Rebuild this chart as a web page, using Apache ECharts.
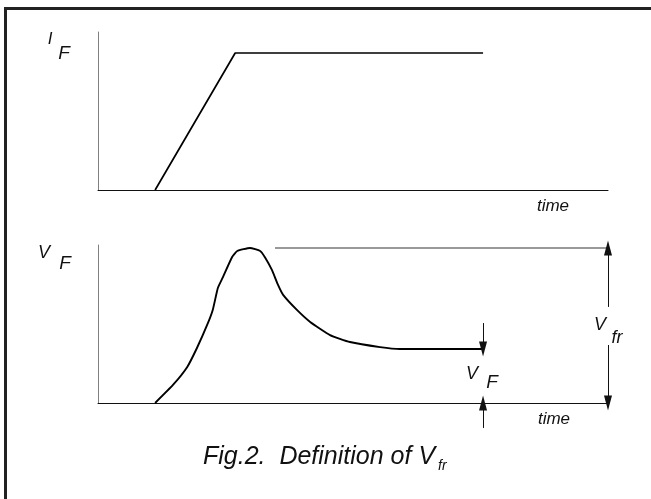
<!DOCTYPE html>
<html>
<head>
<meta charset="utf-8">
<script src="https://cdn.jsdelivr.net/npm/echarts@6/dist/echarts.min.js"></script>
<style>
  html, body { margin: 0; padding: 0; background: #fff; }
  #chart { width: 651px; height: 499px; }
</style>
</head>
<body>
<div id="chart"></div>
<script>
// forward current I_F (time in % of axis, value in % of axis)
const ifTime = [11.2, 26.9, 75.5];
const ifVals = [0, 86.7, 86.7];

// forward voltage V_F, overshoot then settling
const vfTime = [11.2, 14.7, 17.5, 19.4, 21.4, 22.5, 23.5, 24.5, 26.3, 27.3, 29.8, 31.8,
                32.7, 34.1, 35.3, 36.3, 39.0, 41.6, 45.5, 49.4, 55.3, 59.2, 75.5];
const vfVals = [0, 11.4, 22.8, 34.8, 49.4, 58.9, 72.8, 79.7, 92.4, 96.2, 98.1, 96.2,
                92.4, 84.2, 74.7, 68.4, 58.9, 51.3, 43.0, 38.6, 35.4, 34.2, 34.2];

// annotation levels
const peakLevel = 98.1;
const peakLineStart = 34.7;
const vfrX = 100;
const vfrGap = [60.8, 36.7];
const vfX = 75.5;
const vfLevel = 34.2;
const vfArrowFrom = [50.6, -15.8];

function plainAxis(grid, show, color) {
    return {
        type: 'value', gridIndex: grid, min: 0, max: 100, show: show,
        axisLine: {show: true, onZero: false, lineStyle: {color: color, width: 1}},
        axisTick: {show: false}, axisLabel: {show: false}, splitLine: {show: false}
    };
}

function arrow(x0, y0, x1, y1) {
    return [{coord: [x0, y0]}, {coord: [x1, y1], symbol: 'triangle', symbolSize: [8, 15]}];
}

function label(text, x, y, size) {
    return {
        type: 'text', x: x, y: y, silent: true,
        style: {
            text: text, fill: '#111',
            font: 'italic ' + size + 'px "Liberation Sans", Arial, sans-serif',
            align: 'center', verticalAlign: 'middle'
        }
    };
}

const chart = echarts.init(document.getElementById('chart'), null, {renderer: 'canvas'});

const annotY = plainAxis(2, false, '#000');
annotY.min = -20;

chart.setOption({
    animation: false,
    backgroundColor: '#fff',
    grid: [
        {left: 98, top: 32, width: 510, height: 158},
        {left: 98, top: 245, width: 510, height: 158},
        {left: 98, top: 245, width: 510, height: 189.6}
    ],
    xAxis: [plainAxis(0, true, '#111'), plainAxis(1, true, '#111'), plainAxis(2, false, '#000')],
    yAxis: [plainAxis(0, true, '#808080'), plainAxis(1, true, '#808080'), annotY],
    series: [
        {
            type: 'line', xAxisIndex: 0, yAxisIndex: 0, clip: false,
            data: ifTime.map((t, i) => [t, ifVals[i]]),
            showSymbol: false, lineStyle: {color: '#000', width: 1.7}
        },
        {
            type: 'line', xAxisIndex: 1, yAxisIndex: 1, clip: false,
            data: vfTime.map((t, i) => [t, vfVals[i]]),
            showSymbol: false, smooth: 0.15, lineStyle: {color: '#000', width: 1.9}
        },
        {
            type: 'line', xAxisIndex: 2, yAxisIndex: 2, clip: false, data: [],
            markLine: {
                silent: true, animation: false,
                symbol: 'none',
                label: {show: false},
                lineStyle: {color: '#111', width: 1, type: 'solid'},
                data: [
                    [{coord: [peakLineStart, peakLevel], lineStyle: {color: '#777', width: 1.6}},
                     {coord: [vfrX, peakLevel]}],
                    arrow(vfrX, vfrGap[0], vfrX, peakLevel),
                    arrow(vfrX, vfrGap[1], vfrX, 0),
                    arrow(vfX, vfArrowFrom[0], vfX, vfLevel),
                    arrow(vfX, vfArrowFrom[1], vfX, 0)
                ]
            }
        }
    ],
    graphic: [
        {type: 'line', silent: true, shape: {x1: 4, y1: 8.5, x2: 651, y2: 8.5},
         style: {stroke: '#222', lineWidth: 3}},
        {type: 'line', silent: true, shape: {x1: 5.5, y1: 7, x2: 5.5, y2: 499},
         style: {stroke: '#222', lineWidth: 3}},
        label('I', 50, 39, 17),
        label('F', 64, 54, 19),
        label('time', 553, 206, 17),
        label('V', 44, 253, 18),
        label('F', 65, 264, 19),
        label('time', 554, 419, 17),
        label('V', 472, 374, 18),
        label('F', 492, 383, 19),
        label('V', 600, 325, 18),
        label('fr', 617, 338, 18),
        {
            type: 'text', x: 203, y: 457, silent: true,
            style: {
                text: 'Fig.2.  Definition of V', fill: '#111',
                font: 'italic 25px "Liberation Sans", Arial, sans-serif',
                align: 'left', verticalAlign: 'middle'
            }
        },
        {
            type: 'text', x: 438, y: 466, silent: true,
            style: {
                text: 'fr', fill: '#111',
                font: 'italic 14px "Liberation Sans", Arial, sans-serif',
                align: 'left', verticalAlign: 'middle'
            }
        }
    ]
});
</script>
</body>
</html>
